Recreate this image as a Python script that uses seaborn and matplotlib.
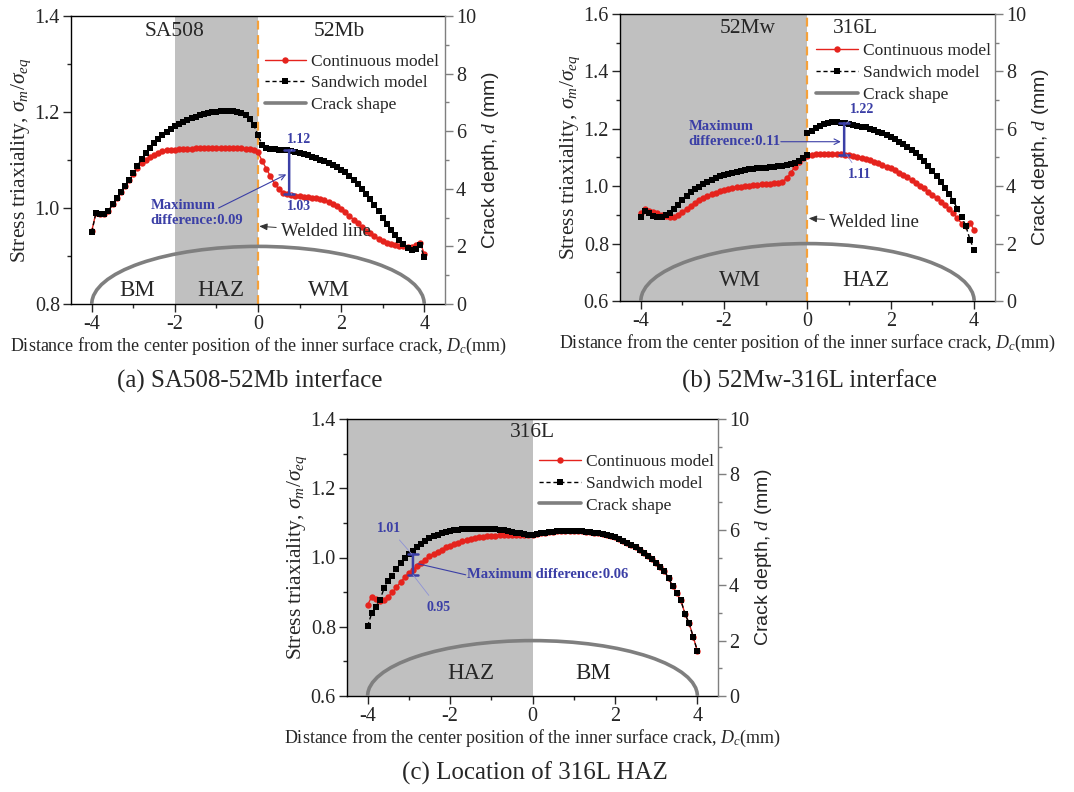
import numpy as np
import matplotlib
matplotlib.use("Agg")
import matplotlib.pyplot as plt
from matplotlib.patches import Arc
from matplotlib.lines import Line2D
from matplotlib.ticker import MultipleLocator, FormatStrFormatter
import seaborn as sns

sns.set_style("ticks")
plt.rcParams["font.family"] = ["Liberation Serif", "DejaVu Serif"]
plt.rcParams["mathtext.fontset"] = "custom"
plt.rcParams["mathtext.rm"] = "Liberation Serif"
plt.rcParams["mathtext.it"] = "Liberation Serif:italic"
plt.rcParams["mathtext.bf"] = "Liberation Serif:bold"
plt.rcParams["axes.unicode_minus"] = False

# ---------------------------------------------------------------- data
# positions along the crack front, D_c (mm)
x_full = np.round(np.arange(-4.0, 4.001, 0.1), 1)
x_left = np.round(np.arange(-4.0, 0.001, 0.1), 1)
x_right = np.round(np.arange(0.0, 4.001, 0.1), 1)

# (a) SA508-52Mb interface
a_continuous = [
    0.952, 0.990, 0.987, 0.987, 0.993, 1.008, 1.020, 1.033, 1.046, 1.058,
    1.071, 1.083, 1.093, 1.100, 1.106, 1.111, 1.115, 1.118, 1.120, 1.121,
    1.121, 1.122, 1.122, 1.123, 1.123, 1.124, 1.124, 1.124, 1.125, 1.125,
    1.125, 1.125, 1.125, 1.125, 1.125, 1.124, 1.124, 1.123, 1.122, 1.120,
    1.116, 1.098, 1.082, 1.066, 1.051, 1.039, 1.032, 1.030, 1.027, 1.025,
    1.024, 1.023, 1.022, 1.021, 1.020, 1.018, 1.016, 1.013, 1.009, 1.004,
    0.998, 0.991, 0.984, 0.976, 0.968, 0.960, 0.953, 0.947, 0.941, 0.936,
    0.931, 0.927, 0.924, 0.922, 0.921, 0.920, 0.919, 0.919, 0.922, 0.928,
    0.905]
a_sandwich = [
    0.950, 0.990, 0.987, 0.987, 0.993, 1.008, 1.020, 1.033, 1.046, 1.058,
    1.072, 1.088, 1.102, 1.114, 1.125, 1.135, 1.144, 1.152, 1.159, 1.165,
    1.170, 1.175, 1.179, 1.183, 1.187, 1.190, 1.193, 1.196, 1.198, 1.200,
    1.201, 1.202, 1.202, 1.202, 1.202, 1.201, 1.198, 1.193, 1.185, 1.172,
    1.152, 1.131, 1.125, 1.123, 1.122, 1.121, 1.120, 1.120, 1.118, 1.116,
    1.114, 1.112, 1.110, 1.107, 1.104, 1.101, 1.098, 1.094, 1.090, 1.085,
    1.080, 1.074, 1.067, 1.059, 1.050, 1.040, 1.030, 1.018, 1.006, 0.993,
    0.980, 0.967, 0.955, 0.944, 0.934, 0.924, 0.916, 0.912, 0.914, 0.922,
    0.898]

# (b) 52Mw-316L interface
b_continuous = [
    0.907, 0.922, 0.914, 0.910, 0.905, 0.901, 0.896, 0.891, 0.891, 0.899,
    0.911, 0.921, 0.931, 0.942, 0.952, 0.960, 0.967, 0.973, 0.978, 0.983,
    0.987, 0.990, 0.993, 0.996, 0.998, 1.000, 1.002, 1.003, 1.004, 1.006,
    1.007, 1.008, 1.010, 1.012, 1.016, 1.027, 1.047, 1.068, 1.086, 1.097,
    1.105, 1.108, 1.111, 1.112, 1.113, 1.113, 1.113, 1.113, 1.112, 1.110,
    1.109, 1.106, 1.103, 1.099, 1.095, 1.090, 1.085, 1.080, 1.074, 1.068,
    1.062, 1.055, 1.047, 1.039, 1.031, 1.022, 1.012, 1.002, 0.992, 0.981,
    0.969, 0.958, 0.946, 0.934, 0.922, 0.906, 0.888, 0.870, 0.861, 0.872,
    0.847]
b_sandwich_left = [
    0.893, 0.914, 0.905, 0.896, 0.891, 0.893, 0.899, 0.908, 0.919, 0.934,
    0.952, 0.967, 0.979, 0.989, 0.998, 1.007, 1.015, 1.022, 1.029, 1.034,
    1.039, 1.043, 1.047, 1.051, 1.054, 1.057, 1.059, 1.061, 1.062, 1.063,
    1.064, 1.066, 1.068, 1.069, 1.071, 1.073, 1.077, 1.082, 1.089, 1.097,
    1.108]
b_sandwich_right = [
    1.187, 1.194, 1.202, 1.210, 1.216, 1.220, 1.222, 1.222, 1.221, 1.220,
    1.217, 1.214, 1.211, 1.208, 1.205, 1.201, 1.196, 1.190, 1.184, 1.179,
    1.173, 1.164, 1.155, 1.147, 1.138, 1.127, 1.115, 1.102, 1.088, 1.072,
    1.054, 1.036, 1.016, 0.995, 0.973, 0.948, 0.922, 0.893, 0.861, 0.814,
    0.777]

# (c) 316L HAZ
c_continuous = [
    0.863, 0.887, 0.880, 0.873, 0.878, 0.887, 0.899, 0.914, 0.929, 0.943,
    0.955, 0.965, 0.975, 0.985, 0.994, 1.003, 1.011, 1.017, 1.023, 1.029,
    1.034, 1.039, 1.043, 1.047, 1.051, 1.054, 1.056, 1.058, 1.060, 1.061,
    1.062, 1.063, 1.064, 1.065, 1.065, 1.065, 1.065, 1.065, 1.065, 1.065,
    1.064, 1.068, 1.070, 1.072, 1.074, 1.075, 1.076, 1.077, 1.077, 1.077,
    1.077, 1.077, 1.076, 1.075, 1.074, 1.072, 1.070, 1.068, 1.065, 1.062,
    1.058, 1.053, 1.048, 1.043, 1.037, 1.030, 1.022, 1.014, 1.005, 0.995,
    0.984, 0.974, 0.961, 0.940, 0.918, 0.897, 0.876, 0.837, 0.810, 0.770,
    0.730]
c_sandwich = [
    0.802, 0.839, 0.858, 0.878, 0.911, 0.931, 0.947, 0.966, 0.984, 0.998,
    1.010, 1.019, 1.029, 1.039, 1.048, 1.055, 1.061, 1.066, 1.070, 1.074,
    1.077, 1.079, 1.080, 1.081, 1.082, 1.083, 1.083, 1.083, 1.083, 1.083,
    1.082, 1.081, 1.079, 1.078, 1.076, 1.074, 1.072, 1.070, 1.068, 1.066,
    1.065, 1.068, 1.070, 1.072, 1.074, 1.075, 1.076, 1.077, 1.077, 1.077,
    1.077, 1.077, 1.076, 1.075, 1.074, 1.072, 1.070, 1.068, 1.065, 1.062,
    1.058, 1.053, 1.048, 1.043, 1.037, 1.030, 1.022, 1.014, 1.005, 0.995,
    0.984, 0.974, 0.961, 0.940, 0.918, 0.897, 0.876, 0.837, 0.810, 0.770,
    0.730]

# semi-elliptical crack: half surface length and maximum depth (mm)
crack_half_length = 4.0
crack_depth = 2.0

# maximum-difference markers: position, sandwich value, continuous value
a_diff = (0.75, 1.12, 1.03)
b_diff = (0.88, 1.22, 1.11)
c_diff = (-2.9, 1.01, 0.95)

legend_labels = ["Continuous model", "Sandwich model", "Crack shape"]
captions = ["(a) SA508-52Mb interface", "(b) 52Mw-316L interface",
            "(c) Location of 316L HAZ"]

# ---------------------------------------------------------------- style
RED = "#e5231d"
BLACK = "#000000"
GREY = "#7f7f7f"
SHADE = "#c0c0c0"
ORANGE = "#f5a13a"
BLUE = "#3b3fa6"
LEAD = "#8e92d6"
TICK_FS = 14.5
MS_RED = 4.6
MS_BLACK = 4.3

W, H = 1074, 792
fig = plt.figure(figsize=(W / 100, H / 100), dpi=100)


def add_axes_px(left, top, right, bottom):
    return fig.add_axes([left / W, 1 - bottom / H, (right - left) / W,
                         (bottom - top) / H])


def base_panel(ax, ylim, ymajor):
    ax.set_xlim(-4.5, 4.5)
    ax.set_ylim(*ylim)
    ax.xaxis.set_major_locator(MultipleLocator(2))
    ax.xaxis.set_minor_locator(MultipleLocator(1))
    ax.yaxis.set_major_locator(MultipleLocator(ymajor))
    ax.yaxis.set_minor_locator(MultipleLocator(ymajor / 2))
    ax.yaxis.set_major_formatter(FormatStrFormatter("%.1f"))
    ax.tick_params(which="major", direction="out", length=6, width=1,
                   labelsize=TICK_FS, pad=2)
    ax.tick_params(which="minor", direction="out", length=3, width=1)
    ax.tick_params(axis="y", which="both", right=False)
    ax.tick_params(axis="x", which="both", top=False)
    for s in ax.spines.values():
        s.set_linewidth(1.0)
        s.set_color("black")
    ax.spines["right"].set_visible(False)
    ax.set_xlabel("Distance from the center position of the inner surface "
                  "crack, $D_c$(mm)", fontsize=13, labelpad=1)
    ax.set_ylabel(r"Stress triaxiality, $\sigma_m/\sigma_{eq}$",
                  fontsize=15.5, labelpad=1)

    ax2 = ax.twinx()
    ax2.set_ylim(0, 10)
    ax2.yaxis.set_major_locator(MultipleLocator(2))
    ax2.yaxis.set_minor_locator(MultipleLocator(1))
    ax2.tick_params(which="major", direction="out", length=6, width=1,
                    labelsize=TICK_FS, color=GREY, pad=2)
    ax2.tick_params(which="minor", direction="out", length=3, width=1,
                    color=GREY)
    for side in ("left", "top", "bottom"):
        ax2.spines[side].set_visible(False)
    ax2.spines["right"].set_color(GREY)
    ax2.spines["right"].set_linewidth(1.0)
    ax2.set_ylabel("Crack depth, $d$ (mm)", fontsize=14,
                   family=["Liberation Sans", "DejaVu Sans"], labelpad=3)
    ax2.add_patch(Arc((0, 0), 2 * crack_half_length, 2 * crack_depth,
                      theta1=0, theta2=180, color=GREY, lw=2.6, zorder=1))
    return ax2


def draw_series(ax, xc, yc, xs_parts, ys_parts):
    sns.lineplot(x=xc, y=yc, ax=ax, color=RED, lw=1.0, marker="o",
                 markersize=MS_RED, markeredgewidth=0, estimator=None,
                 sort=False, legend=False, zorder=3)
    for xs, ys in zip(xs_parts, ys_parts):
        sns.lineplot(x=xs, y=ys, ax=ax, color=BLACK, lw=1.0,
                     linestyle=(0, (3, 2)), marker="s", markersize=MS_BLACK,
                     markeredgewidth=0, estimator=None, sort=False,
                     legend=False, zorder=4)


def legend(ax2, anchor):
    handles = [
        Line2D([], [], color=RED, lw=1.0, marker="o", markersize=MS_RED,
               markeredgewidth=0),
        Line2D([], [], color=BLACK, lw=1.0, ls=(0, (3, 2)), marker="s",
               markersize=MS_BLACK, markeredgewidth=0),
        Line2D([], [], color=GREY, lw=2.6),
    ]
    ax2.legend(handles, legend_labels, loc="upper right",
               bbox_to_anchor=anchor, frameon=False, fontsize=12.5,
               handlelength=2.4, handletextpad=0.3, labelspacing=0.33,
               borderpad=0, borderaxespad=0)


def diff_marker(ax, diff, top_txt, bot_txt):
    x, top, bot = diff
    ax.annotate("", xy=(x, bot), xytext=(x, top),
                arrowprops=dict(arrowstyle="|-|,widthA=0.35,widthB=0.35",
                                color=BLUE, lw=1.8, shrinkA=0, shrinkB=0),
                zorder=6)
    (tx, ty), (lx, ly) = top_txt
    ax.annotate(f"{top:.2f}", xy=(x + lx, top), xytext=(tx, ty),
                fontsize=10, fontweight="bold", color=BLUE,
                ha="center", va="center",
                arrowprops=dict(arrowstyle="-", color=LEAD, lw=0.6,
                                shrinkA=2, shrinkB=0), zorder=6)
    (tx, ty), (lx, ly) = bot_txt
    ax.annotate(f"{bot:.2f}", xy=(x + lx, bot), xytext=(tx, ty),
                fontsize=10, fontweight="bold", color=BLUE,
                ha="center", va="center",
                arrowprops=dict(arrowstyle="-", color=LEAD, lw=0.6,
                                shrinkA=2, shrinkB=0), zorder=6)


def welded(ax, xy_text, xy_line):
    ax.annotate("Welded line", xy=xy_line, xytext=xy_text, fontsize=13.5,
                ha="left", va="center",
                arrowprops=dict(arrowstyle="-|>,head_length=0.35,head_width=0.15",
                                color="#333333", lw=0.7, shrinkA=1, shrinkB=0))


# ---------------------------------------------------------------- (a)
ax = add_axes_px(71, 16, 445, 304)
ax.axvspan(-2, 0, color=SHADE, lw=0, zorder=0)
ax.axvline(0, color=ORANGE, ls=(0, (4, 2.5)), lw=1.6, zorder=2)
ax2 = base_panel(ax, (0.8, 1.4), 0.2)
draw_series(ax, x_full, a_continuous, [x_full], [a_sandwich])
legend(ax2, (0.985, 0.87))
for txt, xx, yy, fs in [("SA508", -2.0, 1.367, 15.5), ("52Mb", 1.95, 1.367, 15.5),
                        ("BM", -2.9, 0.829, 16.5), ("HAZ", -0.9, 0.829, 16.5),
                        ("WM", 1.72, 0.829, 16.5)]:
    ax.text(xx, yy, txt, fontsize=fs, ha="center", va="center", zorder=5)
diff_marker(ax, a_diff, ((0.98, 1.143), (0.05, 0)),
            ((0.98, 1.003), (0.05, 0)))
ax.text(-2.58, 0.99, "Maximum\ndifference:0.09", fontsize=10.5,
        fontweight="bold", color=BLUE, ha="left", va="center",
        linespacing=1.25, zorder=6)
ax.annotate("", xy=(0.68, 1.07), xytext=(-0.95, 1.0),
            arrowprops=dict(arrowstyle="->,head_length=0.4,head_width=0.2",
                            color=BLUE, lw=0.8, shrinkA=0, shrinkB=0))
welded(ax, (0.55, 0.952), (0.03, 0.962))

# ---------------------------------------------------------------- (b)
ax = add_axes_px(620, 14, 995, 301)
ax.axvspan(-4.5, 0, color=SHADE, lw=0, zorder=0)
ax.axvline(0, color=ORANGE, ls=(0, (4, 2.5)), lw=1.6, zorder=2)
ax2 = base_panel(ax, (0.6, 1.6), 0.2)
draw_series(ax, x_full, b_continuous, [x_left, x_right],
            [b_sandwich_left, b_sandwich_right])
legend(ax2, (0.99, 0.9))
for txt, xx, yy, fs in [("52Mw", -1.44, 1.548, 15.5), ("316L", 1.14, 1.548, 15.5),
                        ("WM", -1.61, 0.672, 16.5), ("HAZ", 1.41, 0.672, 16.5)]:
    ax.text(xx, yy, txt, fontsize=fs, ha="center", va="center", zorder=5)
diff_marker(ax, b_diff, ((1.3, 1.268), (0.06, 0)),
            ((1.26, 1.04), (0.06, 0)))
ax.text(-2.85, 1.182, "Maximum\ndifference:0.11", fontsize=10.5,
        fontweight="bold", color=BLUE, ha="left", va="center",
        linespacing=1.25, zorder=6)
ax.annotate("", xy=(0.8, 1.155), xytext=(-0.64, 1.155),
            arrowprops=dict(arrowstyle="->,head_length=0.4,head_width=0.2",
                            color=BLUE, lw=0.8, shrinkA=0, shrinkB=0))
welded(ax, (0.52, 0.872), (0.03, 0.888))

# ---------------------------------------------------------------- (c)
ax = add_axes_px(347, 419, 718, 696)
ax.axvspan(-4.5, 0, color=SHADE, lw=0, zorder=0)
ax2 = base_panel(ax, (0.6, 1.4), 0.2)
draw_series(ax, x_full, c_continuous, [x_full], [c_sandwich])
legend(ax2, (0.99, 0.875))
for txt, xx, yy, fs in [("316L", 0.0, 1.36, 15.5), ("HAZ", -1.5, 0.666, 16.5),
                        ("BM", 1.48, 0.666, 16.5)]:
    ax.text(xx, yy, txt, fontsize=fs, ha="center", va="center", zorder=5)
diff_marker(ax, c_diff, ((-3.48, 1.085), (-0.03, 0)),
            ((-2.29, 0.856), (0.0, 0)))
ax.text(-1.6, 0.95, "Maximum difference:0.06", fontsize=10.5,
        fontweight="bold", color=BLUE, ha="left", va="center", zorder=6)
ax.annotate("", xy=(-2.78, 0.982), xytext=(-1.62, 0.95),
            arrowprops=dict(arrowstyle="-", color=BLUE, lw=0.8,
                            shrinkA=0, shrinkB=0))

# ---------------------------------------------------------------- captions
fig.text(250 / W, 1 - 381 / H, captions[0], fontsize=18, ha="center",
         va="center")
fig.text(809 / W, 1 - 381 / H, captions[1], fontsize=18, ha="center",
         va="center")
fig.text(535 / W, 1 - 773 / H, captions[2], fontsize=18, ha="center",
         va="center")

fig.savefig("out.png", dpi=100)
